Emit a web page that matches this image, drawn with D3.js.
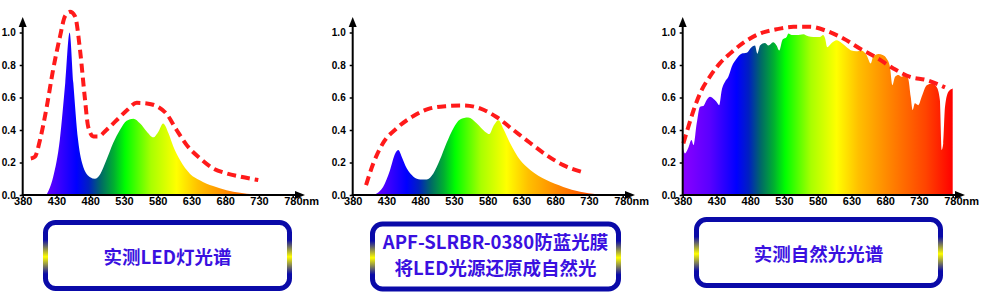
<!DOCTYPE html>
<html><head><meta charset="utf-8">
<script src="https://cdn.jsdelivr.net/npm/d3@7"></script>
<style>html,body{margin:0;padding:0;background:#fff;}svg{display:block;}</style>
</head><body>
<script>
// ---------- DATA ----------
const xTicks = [380,430,480,530,580,630,680,730,780];
const yTicks = [0,0.2,0.4,0.6,0.8,1.0];

// Chart 1: measured LED spectrum [nm, value]
const ledSpectrum = [[415,0],[425,0.11],[435,0.34],[443,0.69],[449.5,1.0],[455,0.69],[462,0.34],[470,0.17],[480,0.11],[487,0.10],[495,0.13],[504,0.215],[514,0.32],[524,0.40],[534,0.457],[544,0.47],[554,0.44],[564,0.39],[573.5,0.355],[581,0.39],[588,0.44],[596,0.38],[603,0.30],[613,0.215],[628,0.13],[643,0.09],[662,0.055],[682,0.03],[702,0.014],[722,0.004],[732,0]];
const ledDash = [[392,0.225],[398,0.235],[405.7,0.34],[415.5,0.54],[425,0.77],[435,0.97],[442.7,1.10],[450,1.127],[457.5,1.10],[465,0.89],[472,0.60],[477,0.42],[484.7,0.36],[492,0.36],[504,0.40],[519,0.46],[534,0.52],[549,0.567],[564,0.563],[578.5,0.547],[593,0.50],[608,0.40],[623,0.307],[643,0.225],[662,0.164],[682,0.133],[702,0.113],[729,0.092]];

// Chart 2: LED through film
const filmSpectrum = [[408,0],[415.5,0.01],[425,0.05],[435,0.15],[443,0.256],[447.6,0.277],[452.6,0.236],[460,0.164],[470,0.113],[480,0.096],[489.6,0.096],[499.5,0.133],[509,0.215],[519,0.32],[529,0.41],[539,0.465],[551,0.477],[564,0.44],[576,0.39],[582.5,0.375],[588,0.42],[596,0.46],[603,0.41],[613,0.32],[628,0.215],[643,0.154],[667,0.092],[692,0.05],[717,0.02],[741.5,0.004],[759,0]];
const filmDash = [[399.8,0.061],[410.6,0.195],[425,0.32],[445,0.41],[470,0.486],[494.6,0.533],[519,0.547],[544,0.551],[568.6,0.533],[593,0.48],[618,0.40],[643,0.32],[667,0.246],[692,0.184],[719,0.143]];

// Chart 3: natural sunlight
const sunSpectrum = [[380,0.297],[383.5,0.256],[388,0.287],[393,0.338],[396,0.307],[400.7,0.44],[405.7,0.543],[410.6,0.547],[415.5,0.584],[420.5,0.604],[425,0.594],[430,0.574],[434,0.553],[437.8,0.645],[442.7,0.697],[447.6,0.727],[452.6,0.789],[460,0.84],[467,0.87],[474.8,0.875],[482,0.91],[487,0.92],[490.6,0.87],[494.6,0.92],[502,0.936],[507,0.92],[514,0.94],[519,0.92],[523,0.89],[528,0.957],[534,0.973],[536.5,0.994],[541.5,0.984],[549,0.984],[558.8,0.99],[566,0.977],[573.6,0.973],[583.5,0.973],[588,0.984],[591,0.963],[594,0.91],[600.7,0.936],[608,0.953],[615.5,0.936],[623,0.91],[630,0.89],[637,0.885],[645,0.89],[652.6,0.86],[658.5,0.81],[662,0.85],[670,0.867],[677,0.86],[682,0.84],[687,0.789],[690.6,0.676],[694.6,0.727],[699.5,0.738],[704.4,0.727],[709,0.738],[714,0.717],[717.8,0.604],[720.7,0.523],[724,0.564],[729,0.553],[734,0.604],[741.5,0.676],[749,0.686],[756,0.666],[761,0.584],[763.6,0.277],[766,0.318],[768.6,0.543],[773.6,0.635],[780,0.656]];
const sunDash = [[381,0.318],[388.4,0.42],[396,0.52],[405.7,0.625],[420.5,0.73],[435,0.81],[450,0.87],[469.6,0.936],[494.6,0.994],[519,1.02],[544,1.035],[568.6,1.035],[593,1.01],[618,0.963],[643,0.90],[667,0.846],[692,0.779],[717,0.727],[741.5,0.707],[768.6,0.662]];

const charts = [
  {spectrum: ledSpectrum, dash: ledDash, label: ["实测LED灯光谱"]},
  {spectrum: filmSpectrum, dash: filmDash, label: ["APF-SLRBR-0380防蓝光膜","将LED光源还原成自然光"]},
  {spectrum: sunSpectrum, dash: sunDash, label: ["实测自然光光谱"]}
];

// spectrum colour stops [nm, colour]
const spectrumColors = [[380,"#8a00ff"],[420,"#5a00ff"],[460,"#0000ff"],[478,"#0020c0"],[496,"#006a66"],[515,"#00b030"],[532,"#00ff00"],[570,"#a8ff00"],[608,"#ffff00"],[640,"#ffc000"],[690,"#ff8000"],[740,"#ff4400"],[780,"#ff0000"]];

// ---------- LAYOUT ----------
const W = 984, H = 293;
const offsets = [0,330,660];
const boxes = [
  {x:45.5, y:222.5, w:244, h:66, cy:[256]},
  {x:372.5, y:224, w:246, h:65, cy:[241,267]},
  {x:696.5, y:219.5, w:244, h:66, cy:[253]}
];

const svg = d3.select("body").append("svg").attr("width",W).attr("height",H);
const defs = svg.append("defs");

const x = d3.scaleLinear().domain([380,780]).range([22.7,292.7]);
const y = d3.scaleLinear().domain([0,1]).range([195,32.5]);

const grad = defs.append("linearGradient").attr("id","spec")
  .attr("gradientUnits","userSpaceOnUse")
  .attr("x1",x(380)).attr("x2",x(780)).attr("y1",0).attr("y2",0);
grad.selectAll("stop").data(spectrumColors).join("stop")
  .attr("offset",d=>(d[0]-380)/400).attr("stop-color",d=>d[1]);

const bgrad = defs.append("linearGradient").attr("id","boxg")
  .attr("x1",0).attr("x2",0).attr("y1",0).attr("y2",1);
[[0,"#0a0aa8"],[0.26,"#0a0aa8"],[0.52,"#ffff00"],[0.78,"#0a0aa8"],[1,"#0a0aa8"]].forEach(s=>
  bgrad.append("stop").attr("offset",s[0]).attr("stop-color",s[1]));

const area = d3.area().x(d=>x(d[0])).y0(y(0)).y1(d=>y(d[1])).curve(d3.curveMonotoneX);
const line = d3.line().x(d=>x(d[0])).y(d=>y(d[1])).curve(d3.curveMonotoneX);

charts.forEach((c,i)=>{
  const g = svg.append("g").attr("transform",`translate(${offsets[i]},0)`);
  g.append("path").datum(c.spectrum).attr("d",area).attr("fill","url(#spec)");
  g.append("path").datum(c.dash).attr("d",line).attr("fill","none")
    .attr("stroke","#ff1a1a").attr("stroke-width",4).attr("stroke-dasharray","9,5");

  // axes
  const xa = g.append("g").attr("transform",`translate(0,${y(0)})`)
    .call(d3.axisBottom(x).tickValues(xTicks).tickSize(3).tickFormat(d=>d));
  xa.select(".domain").remove();
  xa.selectAll("line").attr("stroke","#000").attr("stroke-width",1.5);
  xa.selectAll("text").attr("font-family","Liberation Sans, Arial, sans-serif")
    .attr("font-weight","bold").attr("font-size",11).attr("fill","#000").attr("dy","0.6em").attr("y",3);
  xa.selectAll(".tick").filter(d=>d===780).select("text").each(function(){
    const t = d3.select(this); t.text("780");
    t.append("tspan").text("nm");
    t.attr("text-anchor","start").attr("x",-9);
  });

  const ya = g.append("g").attr("transform",`translate(${x(380)},0)`)
    .call(d3.axisLeft(y).tickValues(yTicks).tickSize(3).tickFormat(d3.format(".1f")));
  ya.select(".domain").remove();
  ya.selectAll("line").attr("stroke","#000").attr("stroke-width",1.5);
  ya.selectAll("text").attr("font-family","Liberation Sans, Arial, sans-serif")
    .attr("font-weight","bold").attr("font-size",10).attr("fill","#000").attr("x",-7);

  // axis lines with arrows
  const x0 = x(380), y0 = y(0);
  g.append("line").attr("x1",x0).attr("x2",x0).attr("y1",y0+1).attr("y2",24)
    .attr("stroke","#000").attr("stroke-width",2);
  g.append("line").attr("x1",x0-1).attr("x2",298).attr("y1",y0).attr("y2",y0)
    .attr("stroke","#000").attr("stroke-width",2);
  g.append("path").attr("d",`M${x0},17 L${x0-4},27 L${x0+4},27 Z`).attr("fill","#000");
  g.append("path").attr("d",`M305,${y0} L295,${y0-4} L295,${y0+4} Z`).attr("fill","#000");

  // label box
  const b = boxes[i];
  svg.append("rect").attr("x",b.x).attr("y",b.y).attr("width",b.w).attr("height",b.h)
    .attr("rx",10).attr("ry",10).attr("fill","#fff")
    .attr("stroke","url(#boxg)").attr("stroke-width",5);
  c.label.forEach((t,j)=>{
    svg.append("text").attr("x",b.x+b.w/2).attr("y",b.cy[j])
      .attr("text-anchor","middle").attr("dominant-baseline","central")
      .attr("font-family","Noto Sans CJK SC, sans-serif").attr("font-weight","bold")
      .attr("font-size",18.5).attr("fill","#3a10e0").text(t);
  });
});
</script>
</body></html>
